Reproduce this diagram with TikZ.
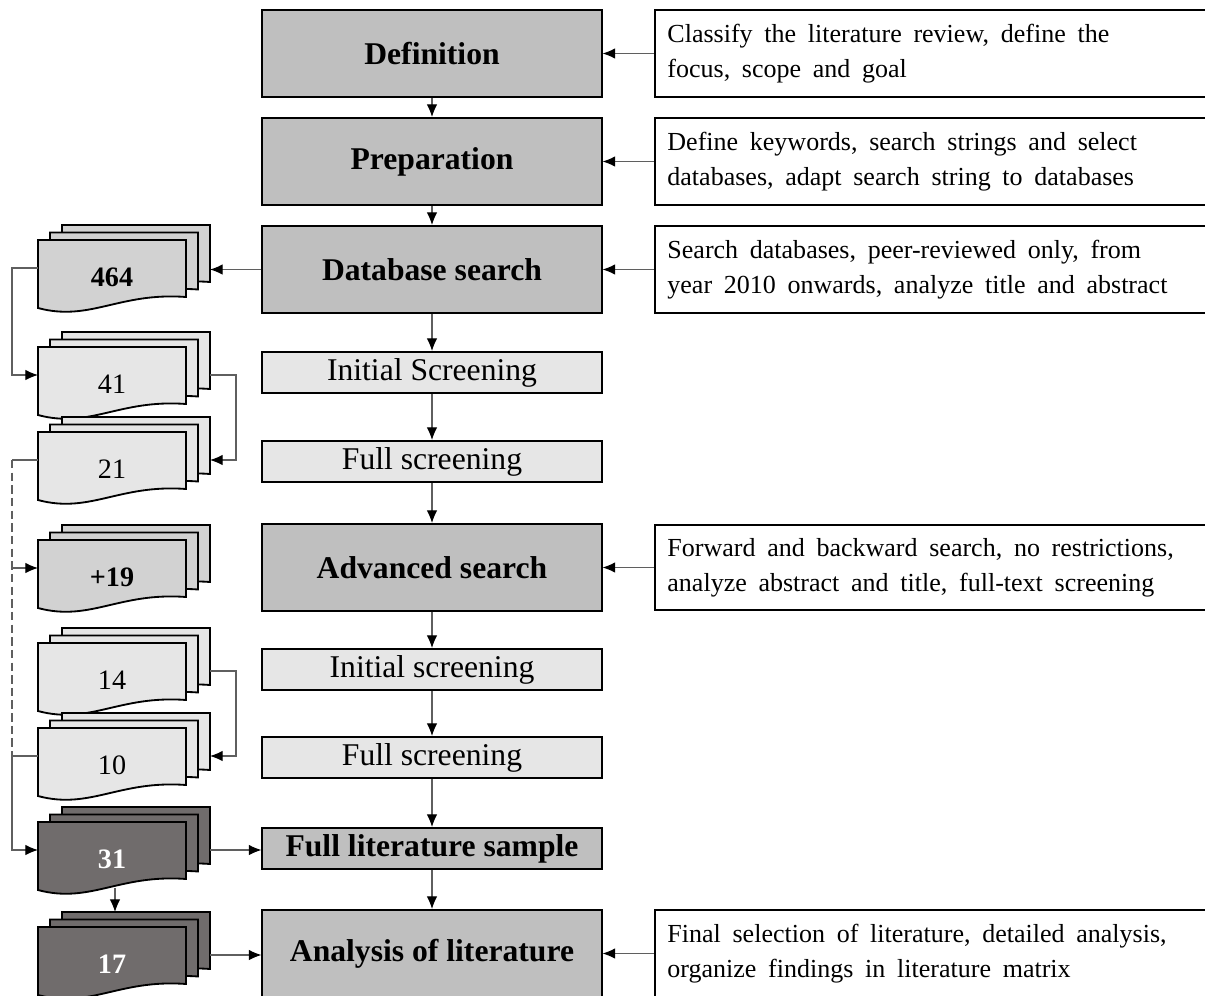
\documentclass[tikz,border=0pt]{standalone}
\usepackage{fontspec}
\setmainfont{Liberation Serif}
\usetikzlibrary{positioning,calc,arrows.meta,graphs}
\definecolor{StageGray}{RGB}{191,191,191}
\definecolor{ScreenGray}{RGB}{230,230,230}
\definecolor{DocMid}{RGB}{210,210,210}
\definecolor{DocLight}{RGB}{230,230,230}
\definecolor{DocDark}{RGB}{112,108,108}
\definecolor{LinkGray}{RGB}{95,95,95}
\tikzset{>={Latex[length=9pt,width=7.5pt,color=black]}}
\tikzset{stage/.style={draw,line width=1.4pt,fill=StageGray,minimum width=8.475cm,minimum height=2.175cm,inner sep=0pt,font=\fontsize{22.5}{26}\selectfont\bfseries}}
\tikzset{screen/.style={draw,line width=1.4pt,fill=ScreenGray,minimum width=8.475cm,minimum height=1.025cm,inner sep=0pt,font=\fontsize{22.5}{26}\selectfont}}
\tikzset{note/.style={draw,line width=1.4pt,fill=white,minimum width=13.875cm,minimum height=2.175cm,text width=13.25cm,align=left,inner sep=0pt,font=\fontsize{18.5}{25}\selectfont,execute at begin node={\spaceskip=.45em plus .1em\relax}}}
\tikzset{sheet/.style={draw,line width=1.3pt}}
\tikzset{link/.style={draw=LinkGray,line width=0.8pt}}
\tikzset{graphs/flow/.style={edges={link,->}}}
\tikzset{pics/docstack/.style n args={3}{code={
    \foreach \k in {2,1,0}
      \draw[sheet,fill=#1,shift={(12*\k,-7.5*\k)}] (0,0) -- (148,0) -- (148,57)
        .. controls (81,52) and (52,82) .. (0,68) -- cycle;
    \node[inner sep=0pt,text=#2,font=\fontsize{20}{24}\selectfont] (-txt) at (74,37) {#3};
    \coordinate (-w) at (0,28);
    \coordinate (-e) at (172,28);
    \coordinate (-s) at (77,66);
    \coordinate (-n) at (77,-15);
}}}

\begin{document}
\begin{tikzpicture}[x=0.025cm,y=-0.025cm]
        \useasboundingbox (0,0) rectangle (1205,995);
        % phases
        \node[stage](def) at (432, 53.5) {Definition};
        \node[stage](prep) at (432,161.5) {Preparation};
        \node[stage](dbs) at (432,269.5) {Database search};
        \node[screen](isc1) at (432,372.5) {Initial Screening};
        \node[screen](fsc1) at (432,461.5) {Full screening};
        \node[stage](adv) at (432,567.5) {Advanced search};
        \node[screen](isc2) at (432,669.5) {Initial screening};
        \node[screen](fsc2) at (432,757.5) {Full screening};
        \node[stage,minimum height=1.025cm](fls) at (432,848.5) {Full literature sample};
        \node[stage](ana) at (432,953.5) {Analysis of literature};
        % descriptions
        \node[note](rdef) at (932.5, 53.5) {Classify the literature review, define the\\ focus, scope and goal};
        \node[note](rprep) at (932.5,161.5) {Define keywords, search strings and select\\ databases, adapt search string to databases};
        \node[note](rdbs) at (932.5,269.5) {Search databases, peer-reviewed only, from\\ year 2010 onwards, analyze title and abstract};
        \node[note,minimum height=2.125cm](radv) at (932.5,567.5) {Forward and backward search, no restrictions,\\ analyze abstract and title, full-text screening};
        \node[note](rana) at (932.5,953.5) {Final selection of literature, detailed analysis,\\ organize findings in literature matrix};
        % document stacks
        \pic (p464) at (38,240) {docstack={DocMid}{black}{\bfseries 464}};
        \pic (p41) at (38,347) {docstack={DocLight}{black}{41}};
        \pic (p21) at (38,432) {docstack={DocLight}{black}{21}};
        \pic (p19) at (38,540) {docstack={DocMid}{black}{\bfseries +19}};
        \pic (p14) at (38,643) {docstack={DocLight}{black}{14}};
        \pic (p10) at (38,728) {docstack={DocLight}{black}{10}};
        \pic (p31) at (38,822) {docstack={DocDark}{white}{\bfseries 31}};
        \pic (p17) at (38,927) {docstack={DocDark}{white}{\bfseries 17}};
        \coordinate (rail) at (12,0);
        \coordinate (rrail) at (236,0);
        \graph[flow]{
            (def) -> (prep) -> (dbs) -> (isc1) -> (fsc1) -> (adv) -> (isc2) -> (fsc2) -> (fls) -> (ana);
            (rdef) -> (def); (rprep) -> (prep); (rdbs) -> (dbs); (radv) -> (adv); (rana) -> (ana);
            (p31-s) -> (p17-n);
        };
        \draw[link,->] (dbs) -- (dbs -| p464-e);
        \draw[link,->] (p464-w) -- (p464-w -| rail) |- (p41-w);
        \draw[link,->] (p41-e) -- (p41-e -| rrail) |- (p21-e);
        \draw[link] (p21-w) -- (p21-w -| rail);
        \draw[link,dash pattern=on 6pt off 3pt] (p21-w -| rail) -- (p10-w -| rail);
        \draw[link,->] (p19-w -| rail) -- (p19-w);
        \draw[link,->] (p14-e) -- (p14-e -| rrail) |- (p10-e);
        \draw[link,->] (p10-w) -- (p10-w -| rail) |- (p31-w);
        \draw[link,->] (p31-e) -- (p31-e -| fls.west);
        \draw[link,->] (p17-e) -- (p17-e -| ana.west);
    \end{tikzpicture}
\end{document}
